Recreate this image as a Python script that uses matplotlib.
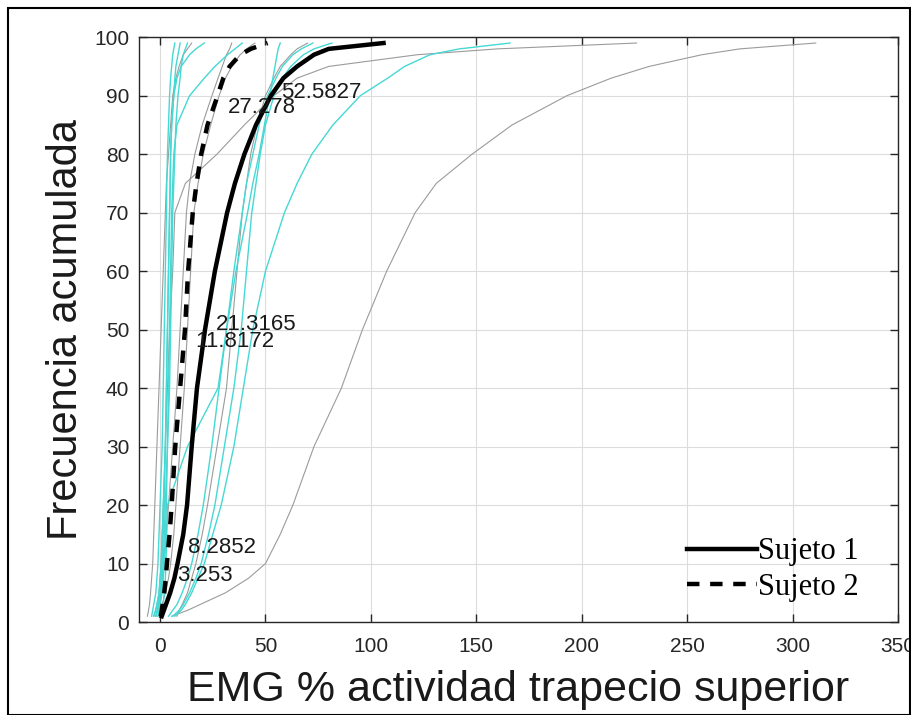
import numpy as np
import matplotlib
matplotlib.use("Agg")
import matplotlib.pyplot as plt
from matplotlib.patches import Rectangle
from matplotlib.lines import Line2D

# Cumulative frequency levels (%) shared by every curve
pct = [1, 2, 3, 5, 7.5, 10, 15, 20, 30, 40, 50, 60, 70, 75, 80, 85, 90, 93, 95, 97, 98, 99]

# EMG values (% activity) reached at each cumulative level
sujeto1 = [0.8, 1.8, 2.8, 4.8, 6.8, 8.2852, 11.0, 12.8, 15.0, 17.5, 21.3165, 26.0, 31.8,
           35.5, 40.0, 45.5, 52.5827, 58.5, 65.0, 73.0, 80.0, 106.0]
sujeto2 = [0.3, 0.8, 1.2, 2.0, 2.7, 3.253, 4.5, 5.5, 7.2, 9.5, 11.8172, 13.3, 15.5,
           17.3, 19.5, 22.5, 27.278, 30.0, 33.0, 38.0, 43.0, 51.0]

# Reference population, grey group
gris_a = [-6, -5.5, -5, -4.5, -4, -3.5, -3, -2.5, -1.5, -0.5, 0.5, 1.5, 2.5, 3, 4, 5,
          6, 7.5, 9, 11, 13, 15]
gris_b = [-2, -1, -0.5, 0.5, 1.2, 2, 3, 4, 6, 8, 9.5, 11, 12.5, 14, 16.5, 20, 24.6,
          27.5, 29.5, 31.5, 33, 34]
gris_c = [-1, 0, 1, 2.5, 4, 5, 6.5, 7.5, 9.5, 11.5, 13, 14.5, 16, 18, 20.5, 24, 28,
          31, 34, 38, 41, 45]
gris_d = [8, 9, 10.5, 13, 15, 17, 20, 22.5, 27, 31.5, 34, 36.5, 39, 41, 43, 46, 50,
          54, 57, 62, 65, 70]
gris_e = [-3, -2, -1.5, -0.5, 0, 0.5, 1, 1.5, 2.5, 3.5, 4.5, 6, 7, 12, 27, 40, 54,
          65, 80, 122, 160, 226]
gris_f = [5.5, 13, 19, 31, 42, 50, 57, 63, 73, 86, 96, 107.5, 121, 131, 148, 167, 193,
          214, 232, 257, 275, 311]

# Reference population, cyan group
cian_a = [-4, -3.5, -3, -2, -1.5, -1, -0.5, 0, 1, 1.5, 2, 2.5, 3, 3.2, 3.5, 4, 4.5,
          5, 5.5, 6, 6.5, 7]
cian_b = [-3, -2.2, -1.5, -0.5, 0, 0.5, 1, 1.5, 2.5, 3, 3.5, 4, 4.5, 4.8, 5, 5.5,
          6.5, 7, 7.5, 8.5, 9, 9.5]
cian_c = [-2, -1.2, -0.5, 0.5, 1, 1.5, 2, 2.5, 3.5, 4.5, 5, 5.5, 6, 6.5, 7, 7.5, 8.5,
          9.5, 10, 11, 12, 13]
cian_d = [-1, -0.5, 0, 1, 1.5, 2, 2.5, 3, 3.5, 4, 4.5, 5, 5.5, 6, 6.5, 8, 14, 21, 26,
          32, 35.5, 39]
cian_e = [-2, -1.5, -1, 0, 0.5, 1, 1.5, 2, 2.5, 3, 3.5, 4, 4.5, 4.8, 5, 5.5, 6.5,
          8, 10, 14, 17, 21]
cian_f = [0.5, 1, 1.5, 2, 2.5, 2.8, 3.1, 3.5, 13, 27.5, 31.5, 36, 41.5, 44, 47, 49.5,
          52, 53.5, 54.5, 55.5, 56, 57]
cian_g = [4, 6, 8, 10.5, 13, 15, 18, 20.5, 24.5, 28, 31.5, 35, 39, 41, 44, 47, 51,
          55, 58, 63, 67, 72.5]
cian_h = [6, 9, 11, 14, 17, 19.5, 23, 26, 30.5, 35, 38.5, 41, 43.5, 45.5, 47.5, 50,
          54, 58, 62, 68, 73, 81.5]
cian_i = [7, 10, 12, 15, 18, 21, 25, 29, 35, 39.5, 44, 50, 59, 65, 72, 82, 95, 108,
          116, 128, 142, 166]

grises = [gris_a, gris_b, gris_c, gris_d, gris_e, gris_f]
cianes = [cian_a, cian_b, cian_c, cian_d, cian_e, cian_f, cian_g, cian_h, cian_i]

# Percentile labels (P10, P50, P90) for each subject
etiq_s1 = [8.2852, 21.3165, 52.5827]
etiq_s2 = [3.253, 11.8172, 27.278]
etiq_y_s1 = [12.8, 50.8, 90.6]
etiq_y_s2 = [7.9, 47.9, 87.9]

DASH = (0, (2.8, 2.4))

fig = plt.figure(figsize=(9.12, 7.15), dpi=100)
ax = fig.add_axes([0.1524, 0.130, 0.8322, 0.818])

for x in grises:
    ax.plot(x, pct, color="#9b9b9b", lw=0.8)
for x in cianes:
    ax.plot(x, pct, color="#45d8d4", lw=1.0)

ax.plot(sujeto1, pct, color="black", lw=3.2, solid_joinstyle="round")
ax.plot(sujeto2, pct, color="black", lw=3.2, ls=DASH)

for xv, yv in zip(etiq_s1 + etiq_s2, etiq_y_s1 + etiq_y_s2):
    ax.text(xv + 5, yv, f"{xv:g}", fontsize=16, va="center", ha="left",
            family="Liberation Sans", color="#1a1a1a")

ax.set_xlim(-10, 350)
ax.set_ylim(0, 100)
ax.set_xticks(np.arange(0, 351, 50))
ax.set_yticks(np.arange(0, 101, 10))
ax.grid(True, color="#dcdcdc", lw=0.8)
ax.set_axisbelow(True)
ax.tick_params(direction="in", length=6, width=1, top=True, right=True,
               labelsize=15, colors="#262626", pad=7)
ax.tick_params(axis="x", pad=11)
for lab in ax.get_xticklabels() + ax.get_yticklabels():
    lab.set_family("Liberation Sans")
for s in ax.spines.values():
    s.set_color("#262626")
    s.set_linewidth(1.0)

ax.set_xlabel("EMG % actividad trapecio superior", fontsize=31,
              family="Liberation Sans", labelpad=10, color="#1a1a1a")
ax.set_ylabel("Frecuencia acumulada", fontsize=30,
              family="Liberation Sans", labelpad=6, color="#1a1a1a")

handles = [Line2D([], [], color="black", lw=3.2),
           Line2D([], [], color="black", lw=3.2, ls=DASH)]
ax.legend(handles, ["Sujeto 1", "Sujeto 2"], loc="lower right",
          bbox_to_anchor=(0.985, -0.012), frameon=False, handlelength=2.3,
          handletextpad=0.05, labelspacing=0.2,
          prop={"family": "Liberation Serif", "size": 22})

fig.patches.append(Rectangle((0.009, 0.0), 0.989, 0.989, transform=fig.transFigure,
                             fill=False, edgecolor="black", lw=1.5))

fig.savefig("out.png", dpi=100)
